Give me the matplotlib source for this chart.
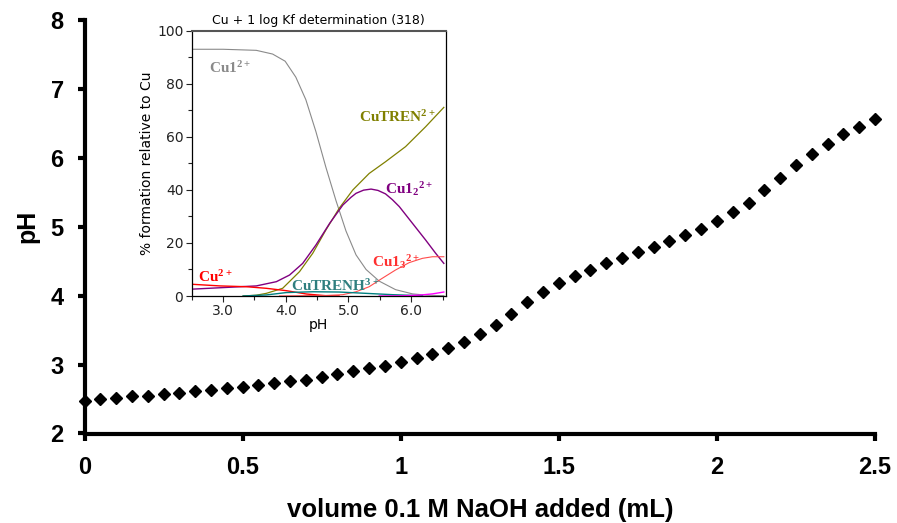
import matplotlib
matplotlib.use("Agg")
import matplotlib.pyplot as plt
from matplotlib.ticker import MultipleLocator

plt.rcParams['mathtext.fontset'] = 'custom'
plt.rcParams['mathtext.rm'] = 'Liberation Serif:bold'
plt.rcParams['mathtext.default'] = 'rm'

# titration curve: volume of 0.1 M NaOH (mL) vs pH
volume = [i * 0.05 for i in range(51)]
ph = [2.47, 2.50, 2.52, 2.54, 2.55, 2.58, 2.59, 2.61, 2.63, 2.66,
      2.68, 2.705, 2.73, 2.76, 2.78, 2.82, 2.87, 2.90, 2.945, 2.98,
      3.04, 3.10, 3.16, 3.24, 3.33, 3.44, 3.58, 3.74, 3.91, 4.06,
      4.18, 4.28, 4.375, 4.47, 4.54, 4.63, 4.71, 4.80, 4.88, 4.97,
      5.08, 5.21, 5.35, 5.53, 5.71, 5.90, 6.05, 6.20, 6.34, 6.45,
      6.57]

# speciation (% formation relative to Cu) vs pH
cu1_ph = [2.52, 3.0, 3.53, 3.79, 3.99, 4.16, 4.32, 4.48, 4.64, 4.80,
          4.96, 5.12, 5.28, 5.49, 5.75, 6.02, 6.25, 6.52]
cu1_pct = [93.0, 93.0, 92.6, 91.2, 88.5, 82.5, 74.0, 62.0, 48.5, 36.0,
           24.5, 15.5, 10.0, 5.6, 2.4, 0.8, 0.3, 0.1]

curen_ph = [3.32, 3.53, 3.69, 3.95, 4.22, 4.43, 4.64, 4.85, 5.07, 5.33,
            5.59, 5.91, 6.23, 6.52]
curen_pct = [0.0, 0.3, 1.0, 2.9, 9.2, 16.1, 24.9, 33.0, 40.0, 46.2,
             50.6, 56.3, 63.8, 71.1]

cu12_ph = [2.52, 3.11, 3.53, 3.85, 4.06, 4.27, 4.48, 4.70, 4.91, 5.04,
           5.12, 5.24, 5.36, 5.47, 5.59, 5.70, 5.81, 6.02, 6.23, 6.39, 6.52]
cu12_pct = [2.6, 3.3, 3.8, 5.4, 7.9, 12.3, 19.2, 27.4, 34.3, 37.2,
            38.7, 39.9, 40.3, 39.8, 38.5, 36.3, 33.7, 27.4, 21.1, 16.1, 12.3]

cu_ph = [2.52, 2.95, 3.37, 3.69, 4.01, 4.33, 4.64, 4.85]
cu_pct = [4.4, 3.8, 3.5, 2.9, 2.0, 0.75, 0.1, 0.0]

cu13_ph = [3.9, 4.64, 4.91, 5.12, 5.33, 5.54, 5.75, 5.97, 6.18, 6.34, 6.52]
cu13_pct = [0.0, 0.2, 0.5, 1.6, 3.5, 6.7, 9.8, 12.6, 14.2, 14.8, 14.8]

curenh_ph = [3.32, 3.69, 4.01, 4.43, 4.85, 5.28, 5.70, 6.18]
curenh_pct = [0.0, 0.4, 1.3, 1.6, 1.5, 1.0, 0.5, 0.1]

other_ph = [5.49, 5.81, 6.12, 6.34, 6.52]
other_pct = [0.0, 0.05, 0.3, 0.8, 1.5]

fig = plt.figure(figsize=(8.97, 5.23), dpi=100)

ax = fig.add_axes([84.5 / 897, 1 - 433.5 / 523, 790.5 / 897, 413.5 / 523])
ax.plot(volume, ph, 'kD', markersize=6.5, clip_on=False, zorder=5)
ax.set_xlim(0, 2.5)
ax.set_ylim(2, 8)
ax.set_xticks([0, 0.5, 1, 1.5, 2, 2.5])
ax.set_xticklabels(['0', '0.5', '1', '1.5', '2', '2.5'])
ax.set_yticks(range(2, 9))
for s in ['top', 'right']:
    ax.spines[s].set_visible(False)
for s in ['left', 'bottom']:
    ax.spines[s].set_linewidth(3)
ax.tick_params(direction='out', length=5, width=3, labelsize=17)
ax.tick_params(axis='x', pad=11)
ax.tick_params(axis='y', pad=10)
for lab in ax.get_xticklabels() + ax.get_yticklabels():
    lab.set_fontfamily('Liberation Sans')
    lab.set_fontweight('bold')
ax.set_xlabel('volume 0.1 M NaOH added (mL)', fontsize=18.5, fontweight='bold',
              family='Liberation Sans', labelpad=14)
ax.set_ylabel('pH', fontsize=18, fontweight='bold', family='Liberation Sans',
              labelpad=8)

# inset: species distribution
ins = fig.add_axes([191.7 / 897, 1 - 296 / 523, 254 / 897, 265.3 / 523])
ins.plot(cu1_ph, cu1_pct, color='#8a8a8a', lw=0.8)
ins.plot(curen_ph, curen_pct, color='#808000', lw=0.9)
ins.plot(cu12_ph, cu12_pct, color='#800080', lw=1.0)
ins.plot(cu_ph, cu_pct, color='#FF0000', lw=1.0)
ins.plot(cu13_ph, cu13_pct, color='#FF4C4C', lw=0.8)
ins.plot(curenh_ph, curenh_pct, color='#008080', lw=1.0)
ins.plot(other_ph, other_pct, color='#FF00FF', lw=1.0)
ins.set_xlim(2.5, 6.55)
ins.set_ylim(0, 100)
ins.set_xticks([3, 4, 5, 6])
ins.set_xticklabels(['3.0', '4.0', '5.0', '6.0'])
ins.xaxis.set_minor_locator(MultipleLocator(0.5))
ins.yaxis.set_minor_locator(MultipleLocator(10))
ins.tick_params(which='both', direction='out', labelsize=10, width=0.8,
                colors='#222222', pad=2)
ins.tick_params(which='major', length=4)
ins.tick_params(which='minor', length=3)
for s in ins.spines.values():
    s.set_linewidth(0.9)
ins.spines['top'].set_color('#555555')
ins.spines['top'].set_linewidth(1.5)
ins.set_title('Cu + 1 log Kf determination (318)', fontsize=9, pad=5)
ins.set_xlabel('pH', fontsize=10, labelpad=0)
ins.set_ylabel('% formation relative to Cu', fontsize=10, labelpad=2)

lab_kw = dict(fontsize=11, va='center', ha='left')
ins.text(2.78, 86, r'$Cu1^{2+}$', color='#8a8a8a', **lab_kw)
ins.text(5.17, 67.5, r'$CuTREN^{2+}$', color='#808000', **lab_kw)
ins.text(5.58, 40.5, r'$Cu1_{2}{}^{2+}$', color='#800080', **lab_kw)
ins.text(5.38, 13, r'$Cu1_{3}{}^{2+}$', color='#FF3030', **lab_kw)
ins.text(2.6, 7.3, r'$Cu^{2+}$', color='#FF0000', **lab_kw)
ins.text(4.08, 3.8, r'$CuTRENH^{3+}$', color='#2F7F7F', **lab_kw)

fig.savefig('out.png', dpi=100)
